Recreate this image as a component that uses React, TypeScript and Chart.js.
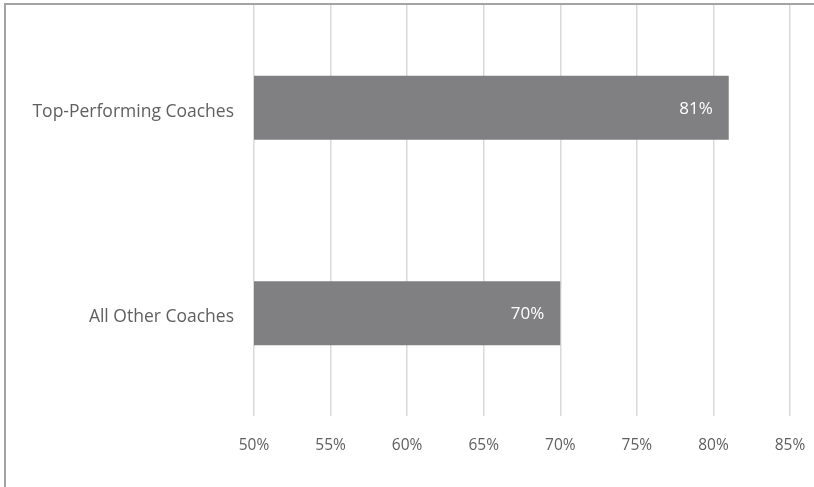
import React, { useEffect, useRef } from "react";
import { Chart, registerables } from "chart.js";

Chart.register(...registerables);

const categories = ["Top-Performing Coaches", "All Other Coaches"];
const values = [81, 70];
const xMin = 50;
const xMax = 85;
const xStep = 5;

const FONT = "'Open Sans', 'Liberation Sans', sans-serif";

const valueLabelPlugin = {
  id: "valueLabels",
  afterDatasetsDraw(chart: any) {
    const { ctx } = chart;
    const meta = chart.getDatasetMeta(0);
    ctx.save();
    ctx.fillStyle = "#ffffff";
    ctx.font = `17px ${FONT}`;
    ctx.textAlign = "right";
    ctx.textBaseline = "middle";
    meta.data.forEach((bar: any, i: number) => {
      ctx.fillText(values[i] + "%", bar.x - 16, bar.y + 1);
    });
    ctx.restore();
  },
};

export default function App() {
  const ref = useRef<HTMLCanvasElement>(null);
  useEffect(() => {
    document.body.style.margin = "0";
    const chart = new Chart(ref.current!, {
      type: "bar",
      data: {
        labels: categories,
        datasets: [
          {
            data: values,
            backgroundColor: "#808083",
            borderWidth: 0,
            barPercentage: 0.312,
            categoryPercentage: 1,
          },
        ],
      },
      options: {
        indexAxis: "y",
        animation: false,
        responsive: false,
        layout: { padding: { top: 5, right: 24, left: 0, bottom: 0 } },
        plugins: { legend: { display: false }, tooltip: { enabled: false } },
        scales: {
          x: {
            min: xMin,
            max: xMax,
            ticks: {
              stepSize: xStep,
              callback: (v: any) => v + "%",
              color: "#5f5f5f",
              font: { family: FONT, size: 15.5 },
              padding: 20,
              maxRotation: 0,
            },
            grid: { color: "#d9d9d9", lineWidth: 1.5, drawTicks: false },
            border: { display: false },
            afterFit: (s: any) => {
              s.height = 71;
              s.paddingLeft = 0;
              s.paddingRight = 0;
            },
          },
          y: {
            ticks: {
              color: "#5f5f5f",
              font: { family: FONT, size: 17.5 },
              padding: 20,
              labelOffset: 4,
            },
            grid: { display: false, drawTicks: false },
            border: { display: false },
            afterFit: (s: any) => {
              s.width = 254;
              s.paddingTop = 0;
              s.paddingBottom = 0;
            },
          },
        },
      },
      plugins: [valueLabelPlugin],
    });
    return () => chart.destroy();
  }, []);
  return (
    <div style={{ position: "relative", width: 814, height: 487, overflow: "hidden", background: "#fff" }}>
      <div
        style={{
          position: "absolute",
          left: 4,
          top: 3,
          width: 840,
          height: 520,
          border: "2px solid #a3a3a3",
        }}
      />
      <canvas ref={ref} width={814} height={487} style={{ position: "absolute", left: 0, top: 0 }} />
    </div>
  );
}
